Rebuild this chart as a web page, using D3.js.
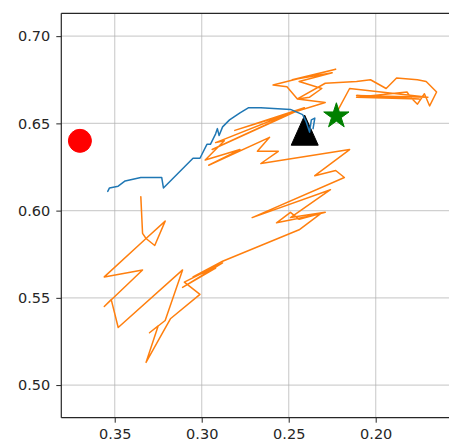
<!DOCTYPE html>
<html>
<head>
<meta charset="utf-8">
<script src="https://cdn.jsdelivr.net/npm/d3@7"></script>
<style>
  html, body { margin: 0; padding: 0; background: #fff; }
  svg { display: block; }
  .tick text { font-family: "DejaVu Sans", sans-serif; font-size: 14.5px; fill: #262626; }
</style>
</head>
<body>
<svg id="chart" width="449" height="446"></svg>
<script>
// ---- data ----
const xTicks = [0.35, 0.30, 0.25, 0.20];
const yTicks = [0.50, 0.55, 0.60, 0.65, 0.70];

const blueX = [0.354, 0.353, 0.348, 0.344, 0.335, 0.323, 0.322, 0.317, 0.311, 0.305, 0.301, 0.300, 0.297, 0.295, 0.292, 0.291, 0.290, 0.288, 0.284, 0.278, 0.273, 0.266, 0.249, 0.242, 0.240, 0.238, 0.237, 0.235, 0.236];
const blueY = [0.611, 0.613, 0.614, 0.617, 0.619, 0.619, 0.613, 0.618, 0.624, 0.630, 0.630, 0.632, 0.638, 0.638, 0.644, 0.647, 0.643, 0.648, 0.652, 0.656, 0.659, 0.659, 0.658, 0.655, 0.651, 0.645, 0.652, 0.653, 0.647];

const orangeX = [0.335, 0.334, 0.332, 0.321, 0.327, 0.332, 0.356, 0.334, 0.356, 0.352, 0.348, 0.311, 0.321, 0.330, 0.325, 0.332, 0.323, 0.318, 0.301, 0.310, 0.288, 0.311, 0.292, 0.305, 0.288, 0.244, 0.232, 0.257, 0.249, 0.244, 0.229, 0.249, 0.226, 0.271, 0.218, 0.223, 0.235, 0.215, 0.266, 0.256, 0.268, 0.261, 0.296, 0.278, 0.298, 0.287, 0.292, 0.244, 0.294, 0.241, 0.281, 0.229, 0.245, 0.251, 0.259, 0.223, 0.248, 0.225, 0.244, 0.231, 0.238, 0.245, 0.229, 0.211, 0.203, 0.194, 0.188, 0.176, 0.171, 0.165, 0.169, 0.172, 0.176, 0.180, 0.182, 0.211, 0.175, 0.211, 0.170, 0.215, 0.222];
const orangeY = [0.608, 0.587, 0.584, 0.594, 0.580, 0.584, 0.562, 0.566, 0.545, 0.549, 0.533, 0.566, 0.537, 0.530, 0.534, 0.513, 0.529, 0.538, 0.552, 0.559, 0.570, 0.556, 0.567, 0.562, 0.571, 0.589, 0.598, 0.593, 0.599, 0.595, 0.599, 0.596, 0.612, 0.596, 0.619, 0.623, 0.620, 0.635, 0.627, 0.634, 0.634, 0.642, 0.626, 0.635, 0.629, 0.640, 0.639, 0.658, 0.635, 0.659, 0.646, 0.662, 0.664, 0.671, 0.672, 0.681, 0.675, 0.679, 0.674, 0.670, 0.665, 0.664, 0.673, 0.674, 0.675, 0.670, 0.676, 0.675, 0.674, 0.668, 0.660, 0.667, 0.661, 0.665, 0.668, 0.665, 0.664, 0.666, 0.665, 0.670, 0.657];

const startPt = [0.2408, 0.6461];   // black triangle
const goalPt = [0.2226, 0.6542];    // green star
const obstaclePt = [0.370, 0.640];  // red circle

// ---- layout ----
const svg = d3.select("#chart");
const L = 61.3, T = 13.3, B = 417.7, R = 449.3;

const x = d3.scaleLinear().domain([0.3807, 0.1577]).range([L, R]);
const y = d3.scaleLinear().domain([0.4813, 0.7131]).range([B, T]);

// grid
const grid = svg.append("g");
grid.selectAll("line.gx").data(xTicks).join("line")
  .attr("x1", d => x(d)).attr("x2", d => x(d)).attr("y1", T).attr("y2", B)
  .attr("stroke", "#b0b0b0").attr("stroke-opacity", 0.6).attr("stroke-width", 1.2);
grid.selectAll("line.gy").data(yTicks).join("line")
  .attr("y1", d => y(d)).attr("y2", d => y(d)).attr("x1", L).attr("x2", R)
  .attr("stroke", "#b0b0b0").attr("stroke-opacity", 0.6).attr("stroke-width", 1.2);

// lines
const line = d3.line().x(d => x(d[0])).y(d => y(d[1]));
const orange = orangeX.map((v, i) => [v, orangeY[i]]);
const blue = blueX.map((v, i) => [v, blueY[i]]);

svg.append("path").datum(orange).attr("d", line)
  .attr("fill", "none").attr("stroke", "#ff7f0e").attr("stroke-width", 1.5)
  .attr("stroke-linejoin", "round").attr("stroke-linecap", "round");

// start triangle
const triH = 15;
svg.append("path")
  .attr("d", `M0,${-triH} L${triH * 0.9},${triH} L${-triH * 0.9},${triH} Z`)
  .attr("transform", `translate(${x(startPt[0])},${y(startPt[1])})`)
  .attr("fill", "#000").attr("stroke", "#000").attr("stroke-width", 1);

svg.append("path").datum(blue).attr("d", line)
  .attr("fill", "none").attr("stroke", "#1f77b4").attr("stroke-width", 1.5)
  .attr("stroke-linejoin", "round").attr("stroke-linecap", "round");

// goal star
const starPts = [];
const rOut = 13.3, rIn = 13.3 * 0.382;
for (let k = 0; k < 10; k++) {
  const a = -Math.PI / 2 + k * Math.PI / 5;
  const r = k % 2 === 0 ? rOut : rIn;
  starPts.push([r * Math.cos(a), r * Math.sin(a)]);
}
svg.append("path")
  .attr("d", "M" + starPts.map(p => p.join(",")).join("L") + "Z")
  .attr("transform", `translate(${x(goalPt[0])},${y(goalPt[1])})`)
  .attr("fill", "#008000").attr("stroke", "#008000").attr("stroke-width", 1);

// obstacle circle
svg.append("circle")
  .attr("cx", x(obstaclePt[0])).attr("cy", y(obstaclePt[1])).attr("r", 11.5)
  .attr("fill", "#ff0000").attr("stroke", "#ff0000").attr("stroke-width", 1);

// axes
const fmt = d3.format(".2f");
const xAxis = svg.append("g").attr("transform", `translate(0,${B})`)
  .call(d3.axisBottom(x).tickValues(xTicks).tickFormat(fmt).tickSize(5).tickPadding(6));
const yAxis = svg.append("g").attr("transform", `translate(${L},0)`)
  .call(d3.axisLeft(y).tickValues(yTicks).tickFormat(fmt).tickSize(5).tickPadding(6));
[xAxis, yAxis].forEach(a => {
  a.select(".domain").remove();
  a.selectAll(".tick line").attr("stroke", "#262626").attr("stroke-width", 1);
});

// spines
const sp = svg.append("g").attr("stroke", "#262626").attr("stroke-width", 1.2).attr("fill", "none");
sp.append("line").attr("x1", L).attr("x2", L).attr("y1", T).attr("y2", B);
sp.append("line").attr("x1", L).attr("x2", 449).attr("y1", B).attr("y2", B);
sp.append("line").attr("x1", L).attr("x2", 449).attr("y1", T).attr("y2", T);
</script>
</body>
</html>
